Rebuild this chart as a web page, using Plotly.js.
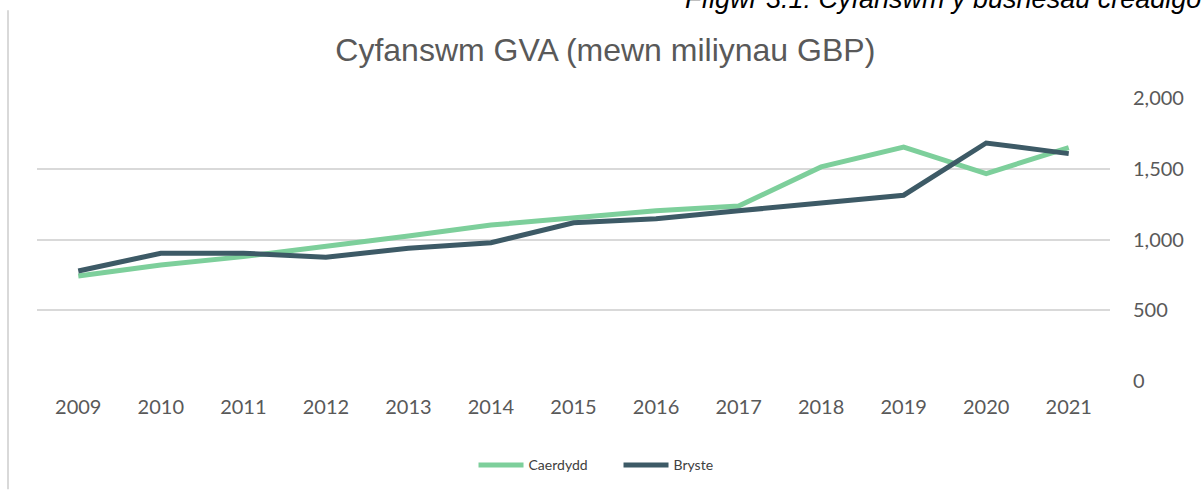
<!DOCTYPE html>
<html>
<head>
<meta charset="utf-8">
<script src="https://cdn.plot.ly/plotly-3.0.1.min.js"></script>
<style>html,body{margin:0;padding:0;background:#fff;}#chart{width:1201px;height:492px;}</style>
</head>
<body>
<div id="chart"></div>
<script>
const years = ['2009','2010','2011','2012','2013','2014','2015','2016','2017','2018','2019','2020','2021'];
const caerdydd = [742, 820, 879, 949, 1025, 1102, 1156, 1203, 1236, 1513, 1653, 1466, 1649];
const bryste = [777, 903, 903, 875, 938, 977, 1118, 1146, 1203, 1259, 1313, 1682, 1607];
const seriesNames = ['Caerdydd', 'Bryste'];
const chartTitle = 'Cyfanswm GVA (mewn miliynau GBP)';
const figCaption = 'Ffigwr 3.1: Cyfanswm y busnesau creadigol';

const traces = [
  {x: years, y: caerdydd, name: seriesNames[0], type: 'scatter', mode: 'lines',
   line: {color: '#7dcf9b', width: 5}},
  {x: years, y: bryste, name: seriesNames[1], type: 'scatter', mode: 'lines',
   line: {color: '#3d5a66', width: 5}}
];

const PL = 37, PR = 1110, PB = 381.5, PT = 98;
const PW = PR - PL, PH = PB - PT;

const layout = {
  width: 1201, height: 492,
  margin: {l: PL, r: 1201 - PR, t: PT, b: 492 - PB, autoexpand: false},
  paper_bgcolor: '#ffffff', plot_bgcolor: '#ffffff',
  showlegend: true,
  title: {text: chartTitle, font: {family: 'Liberation Sans, Arial, sans-serif', size: 32, color: '#595959'},
          x: 0.504, xref: 'container', xanchor: 'center', y: 1 - 50/492, yref: 'container', yanchor: 'middle'},
  xaxis: {type: 'category', range: [-0.5, 12.5], showgrid: false, zeroline: false, showline: false,
          ticks: '', ticklabelstandoff: 12, tickangle: 0, automargin: false,
          tickfont: {family: 'Lato, sans-serif', size: 20, color: '#595959'}, fixedrange: true},
  yaxis: {side: 'right', range: [0, 2000], tickvals: [0, 500, 1000, 1500, 2000],
          ticktext: ['0', '500', '1,000', '1,500', '2,000'], automargin: false,
          showgrid: true, gridcolor: '#d9d9d9', gridwidth: 2, zeroline: false, showline: false,
          ticks: '', ticklabelstandoff: 22,
          tickfont: {family: 'Lato, sans-serif', size: 20, color: '#595959'}, fixedrange: true},
  legend: {orientation: 'h', x: 0.515, xref: 'container', xanchor: 'center', y: (PB - 466) / PH, yanchor: 'middle',
           font: {family: 'Lato, sans-serif', size: 14, color: '#404040'}, itemwidth: 45,
           entrywidth: 85, entrywidthmode: 'pixels'},
  shapes: [
    {type: 'line', xref: 'paper', yref: 'paper', x0: (8 - PL) / PW, x1: (8 - PL) / PW,
     y0: (PB - 10) / PH, y1: (PB - 490) / PH, line: {color: '#d9d9d9', width: 2}}
  ],
  annotations: [
    {text: '<i>' + figCaption + '</i>', xref: 'paper', yref: 'paper', x: (683 - PL) / PW, xanchor: 'left',
     y: (PB + 1) / PH, yanchor: 'middle', showarrow: false,
     font: {family: 'Liberation Sans, Arial, sans-serif', size: 27, color: '#000000'}}
  ]
};

Plotly.newPlot('chart', traces, layout, {displayModeBar: false, staticPlot: true});
</script>
</body>
</html>
